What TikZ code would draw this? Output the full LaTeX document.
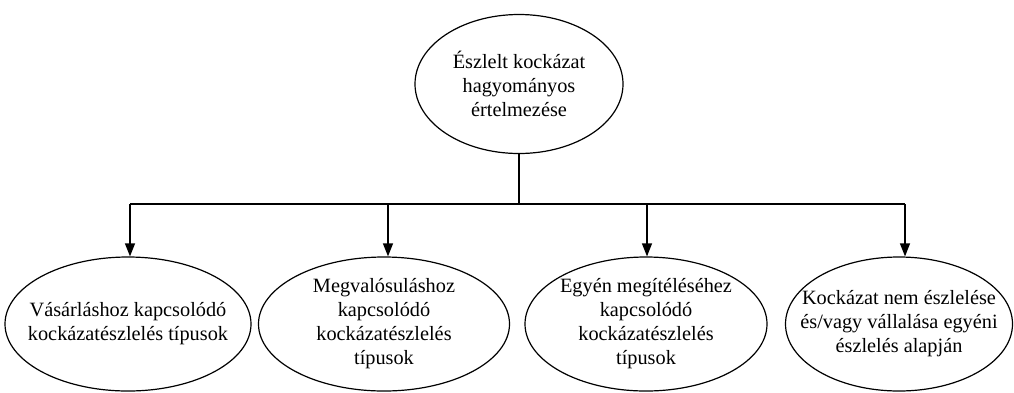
\documentclass[tikz,border=0pt]{standalone}
\usepackage{fontspec}
\setmainfont{Liberation Serif}
\usetikzlibrary{shapes.geometric,arrows.meta}
\begin{document}
\begin{tikzpicture}[x=1pt,y=-1pt,
  txt/.style={inner sep=0pt,align=center,font=\fontsize{20.3}{24}\selectfont},
  oval/.style n args={3}{ellipse,draw,line width=1.2pt,inner sep=0pt,
    minimum width=#1,minimum height=#2,label={[txt]center:{#3}}},
  link/.style={line width=1.2pt},
  arr/.style={link,-{Triangle[length=13pt,width=10pt]}}]
\useasboundingbox (0,0) rectangle (1014,392);

% root concept
\node[oval={208pt}{139pt}{Észlelt kockázat\\hagyományos\\értelmezése}] (root) at (519,84) {};

% four categories
\node[oval={246pt}{134pt}{Vásárláshoz kapcsolódó\\kockázatészlelés típusok}] (c1) at (128,324) {};
\node[oval={251pt}{134pt}{Megvalósuláshoz\\kapcsolódó\\kockázatészlelés\\típusok}] (c2) at (384,324) {};
\node[oval={242pt}{134pt}{Egyén megítéléséhez\\kapcsolódó\\kockázatészlelés\\típusok}] (c3) at (646,324) {};
\node[oval={227pt}{134pt}{Kockázat nem észlelése\\és/vagy vállalása egyéni\\észlelés alapján}] (c4) at (899,324) {};

% bus junctions
\coordinate (bus) at (519,204);
\coordinate (j1) at (130,204);
\coordinate (j2) at (388,204);
\coordinate (j3) at (647,204);
\coordinate (j4) at (905,204);

\draw[link] (root.south) -- (bus);
\draw[link] (j1) -- (j4);
\draw[arr] (j1) -- (j1 |- c1.north);
\draw[arr] (j2) -- (j2 |- c2.north);
\draw[arr] (j3) -- (j3 |- c3.north);
\draw[arr] (j4) -- (j4 |- c4.north);
\end{tikzpicture}
\end{document}
